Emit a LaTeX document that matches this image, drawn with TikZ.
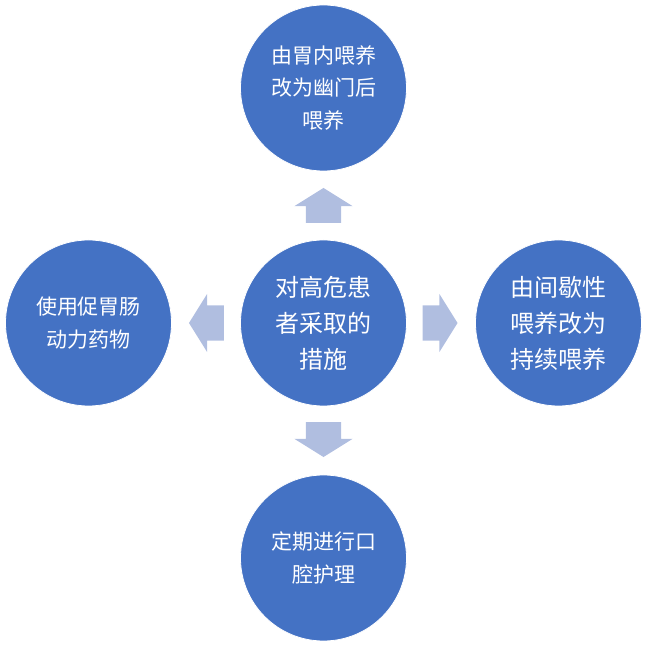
\documentclass[tikz,border=0pt]{standalone}
\usepackage{fontspec}
\setmainfont{Noto Sans CJK SC}
\usetikzlibrary{shapes.arrows}
\definecolor{accentblue}{RGB}{68,114,196}
\definecolor{arrowblue}{RGB}{176,190,224}
\tikzstyle{bubble} = [circle, minimum size=166pt, inner sep=0pt, text centered, align=center, draw=white, line width=0.8pt, fill=accentblue, text=white, font=\fontsize{21}{32.5}\selectfont]
\tikzstyle{bigbubble} = [bubble, font=\fontsize{24}{36}\selectfont]
\tikzstyle{bigarrow} = [single arrow, fill=arrowblue, draw=none, minimum height=35pt, single arrow head extend=11.5pt, single arrow tip angle=116]
\tikzstyle{harrow} = [bigarrow, inner xsep=0pt, inner ysep=17.5pt]
\tikzstyle{varrow} = [bigarrow, inner xsep=17.5pt, inner ysep=0pt]

\begin{document}
\begin{tikzpicture}[node distance=235pt]
    \useasboundingbox (0,0) rectangle (647pt,649pt);
    % Circles
    \node (centre) [bigbubble] at (323.5pt,326pt) {对高危患\\者采取的\\措施};
    \node (top) [bubble, above of=centre] {由胃内喂养\\改为幽门后\\喂养};
    \node (right) [bigbubble, right of=centre] {由间歇性\\喂养改为\\持续喂养};
    \node (bottom) [bubble, below of=centre] {定期进行口\\腔护理};
    \node (left) [bubble, left of=centre] {使用促胃肠\\动力药物};

    % Block arrows
    \node (upArr) [varrow, shape border rotate=90, above of=centre, yshift=-123pt] {};
    \node (rightArr) [harrow, right of=centre, xshift=-124pt] {};
    \node (downArr) [varrow, shape border rotate=270, below of=centre, yshift=124pt] {};
    \node (leftArr) [harrow, shape border rotate=180, left of=centre, xshift=123.5pt] {};
\end{tikzpicture}
\end{document}
